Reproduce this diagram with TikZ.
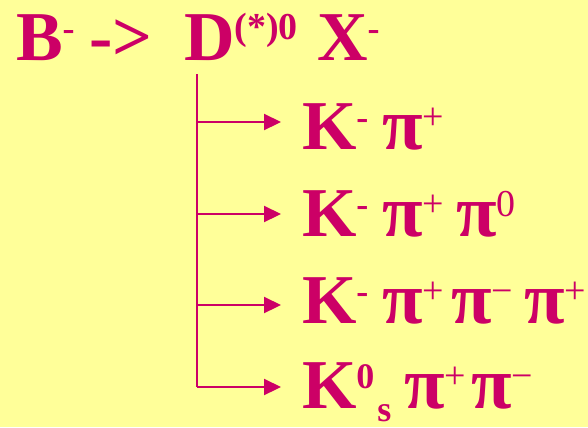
\documentclass[tikz,border=0pt]{standalone}
\usepackage{fontspec}
\setmainfont{Liberation Serif}
\usetikzlibrary{arrows.meta}
\definecolor{bgyellow}{HTML}{FFFF99}
\definecolor{ink}{HTML}{CC0066}
\newcommand\supb[1]{\raisebox{20bp}{\fontsize{36bp}{40bp}\selectfont\bfseries #1}}
\newcommand\supt[1]{\raisebox{21bp}{\fontsize{38bp}{40bp}\selectfont\bfseries #1}}
\newcommand\supr[1]{\raisebox{20bp}{\fontsize{38bp}{40bp}\selectfont\mdseries #1}}
\newcommand\subb[1]{\raisebox{-13bp}{\fontsize{36bp}{40bp}\selectfont\bfseries #1}}
\newcommand\ppi{{\fontsize{74bp}{90bp}\selectfont\bfseries π}}
\tikzset{
  txt/.style={anchor=base west, inner sep=0pt, outer sep=0pt, text=ink,
    font=\fontsize{70bp}{80bp}\selectfont\bfseries},
  trunk/.style={draw=ink, line width=2.2bp},
  branch/.style={draw=ink, line width=2.2bp, -{Triangle[length=17bp,width=16bp]}, shorten >=21bp}
}
\begin{document}
\begin{tikzpicture}[x=1bp,y=-1bp]
\fill[bgyellow] (0,0) rectangle (588,427);
\useasboundingbox (0,0) rectangle (588,427);
% title
\node[txt] (B) at (16,60) {B\supb{-}};
\node[txt] (to) at (89,60) {->};
\node[txt] (D) at (184,60) {D\supt{(*)0}};
\node[txt] (X) at (317,60) {X\supb{-}};
% row 1
\node[txt] (r1) at (302,149) {K\supb{-}};
\node[txt] (r1a) at (382,149) {\ppi\supr{+}};
% row 2
\node[txt] (r2) at (302,236) {K\supb{-}};
\node[txt] (r2a) at (382,236) {\ppi\supr{+}};
\node[txt] (r2b) at (456,236) {\ppi\supr{0}};
% row 3
\node[txt] (r3) at (302,323) {K\supb{-}};
\node[txt] (r3a) at (382,323) {\ppi\supr{+}};
\node[txt] (r3b) at (451,323) {\ppi\supr{−}};
\node[txt] (r3c) at (524,323) {\ppi\supr{+}};
% row 4
\node[txt] (r4) at (302,408) {K\supb{0}\hspace{3bp}\subb{s}};
\node[txt] (r4a) at (404,408) {\ppi\supr{+}};
\node[txt] (r4b) at (471,408) {\ppi\supr{−}};
% connectors
\coordinate (top) at (197,74);
\coordinate (t1) at (197,122);
\coordinate (t2) at (197,214);
\coordinate (t3) at (197,305);
\coordinate (t4) at (197,387);
\draw[trunk] (top) -- (t4);
\draw[branch] (t1) -- (t1 -| r1.west);
\draw[branch] (t2) -- (t2 -| r2.west);
\draw[branch] (t3) -- (t3 -| r3.west);
\draw[branch] (t4) -- (t4 -| r4.west);
\end{tikzpicture}
\end{document}
